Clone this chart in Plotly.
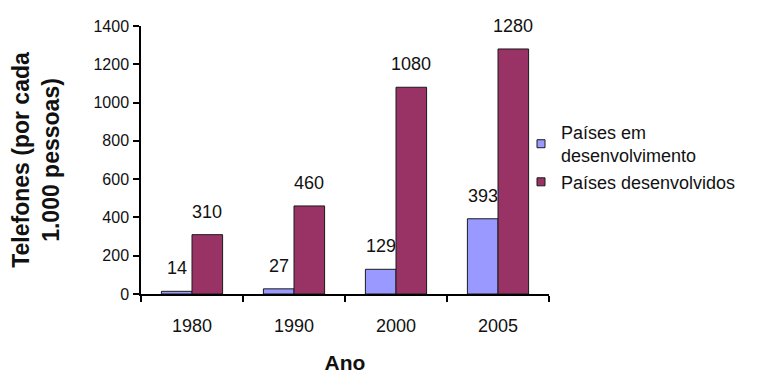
import plotly.graph_objects as go

anos = ["1980", "1990", "2000", "2005"]
em_desenvolvimento = [14, 27, 129, 393]
desenvolvidos = [310, 460, 1080, 1280]
nomes = ["Países em<br>desenvolvimento", "Países desenvolvidos"]
y_ticks = [0, 200, 400, 600, 800, 1000, 1200, 1400]

azul = "#9999FF"
vinho = "#993366"
FONT = "Liberation Sans, Arial, sans-serif"

fig = go.Figure()
fig.add_trace(go.Bar(x=anos, y=em_desenvolvimento, marker=dict(color=azul, line=dict(color="#1a1a1a", width=1)),
                     showlegend=False))
fig.add_trace(go.Bar(x=anos, y=desenvolvidos, marker=dict(color=vinho, line=dict(color="#1a1a1a", width=1)),
                     showlegend=False))
# legend proxies (no visible points)
for nome, cor in zip(nomes, [azul, vinho]):
    fig.add_trace(go.Scatter(x=[anos[0]], y=[None], mode="markers", name=nome,
                             marker=dict(symbol="square", size=8, color=cor, line=dict(color="#1a1a1a", width=1))))

for serie, shift in [(em_desenvolvimento, -15.3), (desenvolvidos, 15.3)]:
    for i, v in enumerate(serie):
        fig.add_annotation(x=i, y=v, xref="x", yref="y", text=str(v), showarrow=False,
                           xshift=shift, yshift=23, yanchor="middle",
                           font=dict(family=FONT, size=18, color="#111"))

fig.update_layout(
    width=750, height=368,
    margin=dict(l=133, r=209, t=18, b=82),
    paper_bgcolor="white", plot_bgcolor="white",
    barmode="group", bargap=0.4, bargroupgap=0,
    font=dict(family=FONT, color="#111"),
    showlegend=True,
    legend=dict(x=(521 - 141) / 408, xanchor="left", y=0.51, yanchor="middle",
                font=dict(family=FONT, size=18, color="#111"), itemwidth=30,
                bgcolor="rgba(0,0,0,0)", tracegroupgap=2),
    xaxis=dict(type="category", categoryorder="array", categoryarray=anos, range=[-0.5, 3.5],
               showline=True, linecolor="black", linewidth=1.5, automargin=False,
               ticks="outside", tickson="boundaries", ticklen=6, tickcolor="black", tickwidth=1.5,
               tickfont=dict(family=FONT, size=18, color="#111"), ticklabelstandoff=15, tickangle=0,
               showgrid=False, zeroline=False,
               title=dict(text="<b>Ano</b>", font=dict(family=FONT, size=21, color="#111"), standoff=20)),
    yaxis=dict(range=[0, 1400], tickvals=y_ticks, showline=True, linecolor="black", linewidth=1.5,
               automargin=False,
               ticks="outside", ticklen=6, tickcolor="black", tickwidth=1.5,
               tickfont=dict(family=FONT, size=16, color="#111"), ticklabelstandoff=1,
               showgrid=False, zeroline=False,
               title=dict(text="<b>Telefones (por cada<br>1.000 pessoas)</b>",
                          font=dict(family=FONT, size=23, color="#111"), standoff=33)),
)

fig.write_html("out.html")
